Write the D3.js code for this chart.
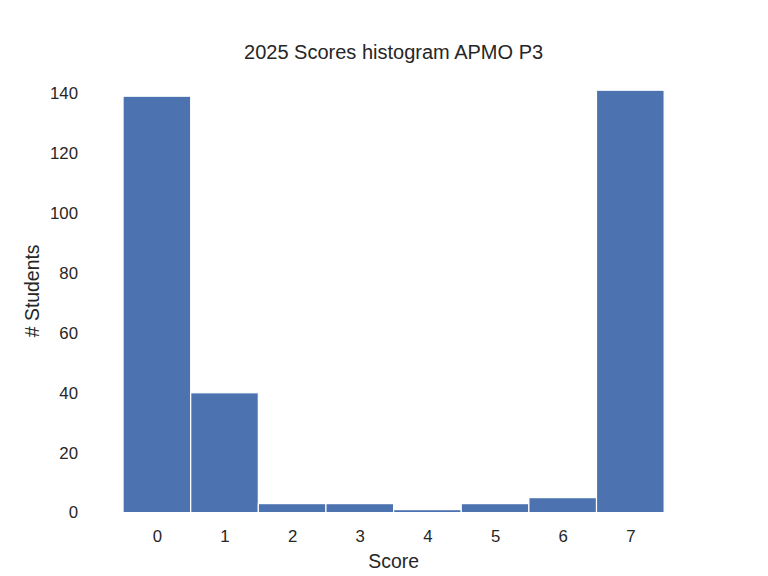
<!DOCTYPE html>
<html>
<head>
<meta charset="utf-8">
<script src="https://cdn.jsdelivr.net/npm/d3@7"></script>
<style>
  html, body { margin: 0; padding: 0; background: #fff; }
  text { font-family: "Liberation Sans", Arial, sans-serif; fill: #262626; }
</style>
</head>
<body>
<svg id="chart" width="768" height="576"></svg>
<script>
const scores = [0, 1, 2, 3, 4, 5, 6, 7];
const counts = [139, 40, 3, 3, 1, 3, 5, 141];
const yTicks = [0, 20, 40, 60, 80, 100, 120, 140];
const titleText = "2025 Scores histogram APMO P3";
const xLabelText = "Score";
const yLabelText = "# Students";

(function () {
const mLeft = 96, mRight = 691.2, mTop = 69.1, mBottom = 512.6;
const svg = d3.select("#chart");

const x = d3.scaleLinear().domain([-0.9, 7.9]).range([mLeft, mRight]);
const yMax = d3.max(counts) * 1.05;
const y = d3.scaleLinear().domain([0, yMax]).range([mBottom, mTop]);

svg.append("g").selectAll("rect").data(scores).join("rect")
  .attr("x", d => x(d - 0.5))
  .attr("width", d => x(d + 0.5) - x(d - 0.5))
  .attr("y", (d, i) => y(counts[i]))
  .attr("height", (d, i) => y(0) - y(counts[i]))
  .attr("fill", "#4c72b0")
  .attr("stroke", "#ffffff")
  .attr("stroke-width", 1.2);

const xAxis = svg.append("g").attr("transform", `translate(0,${mBottom})`)
  .call(d3.axisBottom(x).tickValues(scores).tickSize(0).tickPadding(17).tickFormat(d3.format("d")));
xAxis.select(".domain").remove();
xAxis.selectAll("text").style("font-size", "16.8px").attr("fill", "#262626");

const yAxis = svg.append("g").attr("transform", `translate(${mLeft},0)`)
  .call(d3.axisLeft(y).tickValues(yTicks).tickSize(0).tickPadding(18).tickFormat(d3.format("d")));
yAxis.select(".domain").remove();
yAxis.selectAll("text").style("font-size", "16.8px").attr("fill", "#262626");

svg.append("text").attr("x", (mLeft + mRight) / 2).attr("y", 59)
  .attr("text-anchor", "middle").style("font-size", "20px").text(titleText);

svg.append("text").attr("x", (mLeft + mRight) / 2).attr("y", 568)
  .attr("text-anchor", "middle").style("font-size", "19.4px").text(xLabelText);

svg.append("text").attr("transform", `translate(39,${(mTop + mBottom) / 2}) rotate(-90)`)
  .attr("text-anchor", "middle").style("font-size", "19.4px").text(yLabelText);
})();
</script>
</body>
</html>
